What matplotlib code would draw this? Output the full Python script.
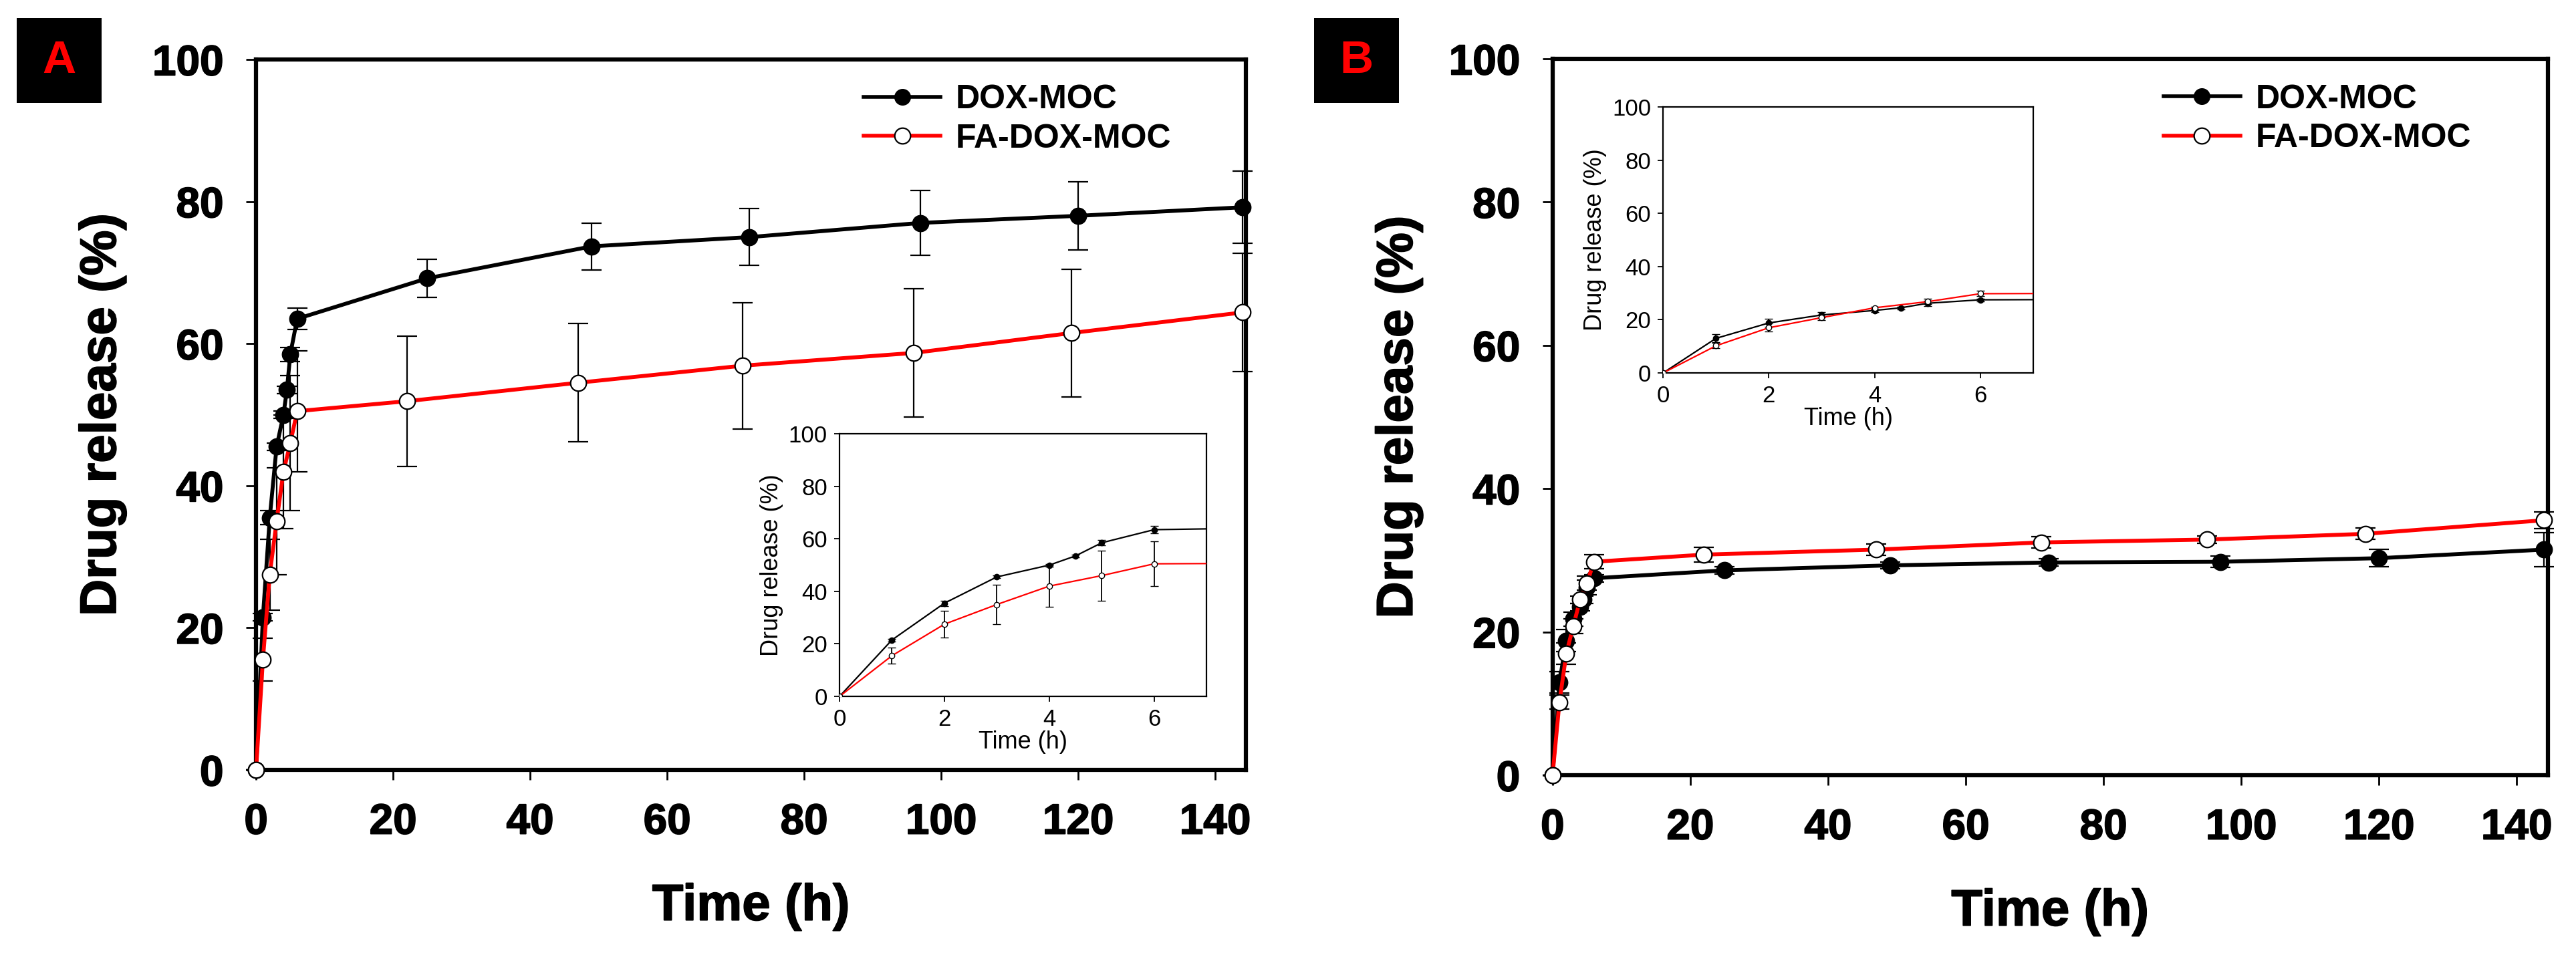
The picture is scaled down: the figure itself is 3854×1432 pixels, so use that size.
import matplotlib.pyplot as plt
import matplotlib.patheffects as pe
from matplotlib.lines import Line2D
from matplotlib.patches import Rectangle

plt.rcParams['font.family'] = ['Liberation Sans', 'DejaVu Sans']

# Panel A: release over time
a_dox_t = [0, 1, 2, 3, 4, 4.5, 5, 6, 25, 49, 72, 97, 120, 144]
a_dox = [0, 21.5, 35.5, 45.5, 50, 53.5, 58.5, 63.5, 69.2, 73.7, 75.0, 77.0, 78.0, 79.2]
a_dox_err = [0, 0.5, 1, 0.5, 0.5, 0.5, 1, 1.5, 2.7, 3.3, 4, 4.6, 4.8, 5.1]
a_fa_t = [0, 1, 2, 3, 4, 5, 6, 22, 47, 71, 96, 119, 144]
a_fa = [0, 15.5, 27.5, 35, 42, 46, 50.5, 51.9, 54.5, 56.9, 58.7, 61.5, 64.4]
a_fa_err = [0, 3, 5, 7.5, 8, 9.5, 8.5, 9.2, 8.3, 8.9, 9, 9, 8.3]

# Panel B
b_dox_t = [0, 1, 2, 3, 4, 4.5, 5, 6, 25, 49, 72, 97, 120, 144]
b_dox = [0, 13, 18.8, 21.8, 23.5, 24.5, 26.2, 27.5, 28.6, 29.3, 29.7, 29.8, 30.3, 31.5]
b_dox_err = [0, 1.5, 1.5, 1, 0.5, 0.5, 1, 0.5, 0.5, 0.5, 0.5, 0.8, 1.2, 2.4]
b_fa_t = [0, 1, 2, 3, 4, 5, 6, 22, 47, 71, 95, 118, 144]
b_fa = [0, 10.2, 17, 20.8, 24.5, 26.8, 29.8, 30.8, 31.5, 32.5, 32.9, 33.7, 35.6]
b_fa_err = [0, 1, 1.5, 1, 0.5, 1, 1, 1, 0.8, 0.8, 0.5, 0.8, 1.2]

labels = ['DOX-MOC', 'FA-DOX-MOC']
main_ticks_x = [0, 20, 40, 60, 80, 100, 120, 140]
main_ticks_y = [0, 20, 40, 60, 80, 100]
inset_ticks_x = [0, 2, 4, 6]

heavy = [pe.withStroke(linewidth=1.2, foreground='black')]


def plot_series(ax, t1, y1, e1, t2, y2, e2, lw, ms, cap, elw, mew, clip):
    ax.errorbar(t1, y1, yerr=e1, color='black', lw=lw, marker='o', ms=ms,
                mfc='black', mec='black', mew=mew, ecolor='black',
                elinewidth=elw, capsize=cap, capthick=elw, zorder=2, clip_on=clip)
    ax.errorbar(t2, y2, yerr=e2, color='red', lw=lw, marker='o', ms=ms,
                mfc='white', mec='black', mew=mew, ecolor='black',
                elinewidth=elw, capsize=cap, capthick=elw, zorder=3, clip_on=clip)


def main_panel(ax, data):
    plot_series(ax, *data, lw=4.2, ms=17, cap=10.5, elw=1.6, mew=1.6, clip=False)
    ax.set_xlim(0, 144.5)
    ax.set_ylim(0, 100)
    ax.set_xticks(main_ticks_x)
    ax.set_yticks(main_ticks_y)
    for s in ax.spines.values():
        s.set_linewidth(4.5)
        s.set_zorder(1)
    ax.tick_params(direction='out', length=11, width=2, pad=24, labelsize=46)
    for lab in ax.get_xticklabels() + ax.get_yticklabels():
        lab.set_fontweight('bold')
        lab.set_path_effects(heavy)
    ax.set_xlabel('Time (h)', fontsize=55, fontweight='bold', labelpad=44,
                  path_effects=heavy)
    ax.set_ylabel('Drug release (%)', fontsize=55, fontweight='bold', labelpad=28,
                  path_effects=heavy)
    handles = [
        Line2D([], [], color='black', lw=4, marker='o', ms=17, mfc='black', mec='black'),
        Line2D([], [], color='red', lw=4, marker='o', ms=17, mfc='white', mec='black', mew=1.6),
    ]
    ax.legend(handles, labels, loc='upper left', bbox_to_anchor=(0.614, 0.965),
              frameon=False, borderpad=0, borderaxespad=0, handlelength=2.3,
              handletextpad=0.45, labelspacing=0.25,
              prop={'size': 36, 'weight': 'bold'})


def inset_panel(ax, data):
    plot_series(ax, *data, lw=1.6, ms=6, cap=4.5, elw=1.3, mew=1.0, clip=True)
    ax.set_xlim(0, 7)
    ax.set_ylim(0, 100)
    ax.set_xticks(inset_ticks_x)
    ax.set_yticks(main_ticks_y)
    for s in ax.spines.values():
        s.set_linewidth(1.6)
    ax.tick_params(direction='out', length=6, width=1.3, pad=7, labelsize=25)
    ax.set_xlabel('Time (h)', fontsize=26, labelpad=0)
    ax.set_ylabel('Drug release (%)', fontsize=26, labelpad=6)


fig = plt.figure(figsize=(38.54, 14.32), dpi=100)

data_a = (a_dox_t, a_dox, a_dox_err, a_fa_t, a_fa, a_fa_err)
data_b = (b_dox_t, b_dox, b_dox_err, b_fa_t, b_fa, b_fa_err)

ax_a = fig.add_axes([0.0994, 0.1955, 0.3843, 0.7423])
main_panel(ax_a, data_a)
ins_a = fig.add_axes([0.3259, 0.2723, 0.1425, 0.2744])
inset_panel(ins_a, data_a)

ax_b = fig.add_axes([0.6027, 0.1899, 0.3863, 0.7486])
main_panel(ax_b, data_b)
ins_b = fig.add_axes([0.6456, 0.6103, 0.1437, 0.2779])
inset_panel(ins_b, data_b)

# panel letters in black boxes
for x0, letter in [(0.0065, 'A'), (0.5101, 'B')]:
    fig.patches.append(Rectangle((x0, 0.8925), 0.033, 0.0887, transform=fig.transFigure,
                                 facecolor='black', edgecolor='none'))
    fig.text(x0 + 0.0165, 0.8925 + 0.0443, letter, color='red', fontsize=50,
             fontweight='bold', ha='center', va='center')

fig.savefig('out.png', dpi=100)
